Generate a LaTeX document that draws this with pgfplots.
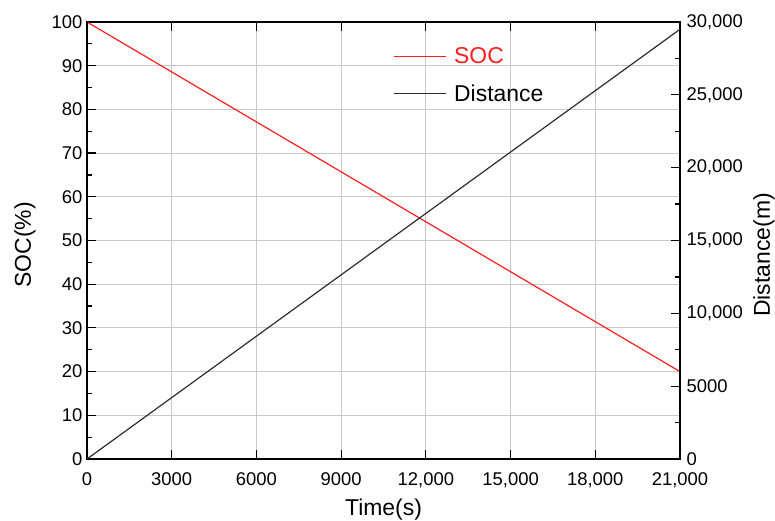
\documentclass[border=0pt]{standalone}
\usepackage{fontspec}
\setmainfont{Liberation Sans}
\usepackage{pgfplots}
\pgfplotsset{compat=1.18}
\definecolor{gridc}{RGB}{200,200,200}
\definecolor{dline}{RGB}{45,45,45}
\definecolor{socred}{RGB}{255,30,30}
\begin{document}
\begin{tikzpicture}
\pgfplotsset{
  every axis/.append style={
    font=\fontsize{18.5}{22}\selectfont,
    scale only axis, width=593bp, height=437bp,
    xmin=0, xmax=21000,
    tick align=inside,
    axis line style={line width=1.4pt},
    major tick length=9bp, minor tick length=5bp,
    tick style={black, line width=1.2pt},
    /pgf/number format/assume math mode=true,
  },
}
\begin{axis}[
  ymin=0, ymax=100,
  xtick={0,3000,...,21000},
  xticklabels={0,3000,6000,9000,{12,000},{15,000},{18,000},{21,000}},
  xticklabel style={anchor=base, yshift=-26bp},
  ytick={0,10,...,100},
  minor ytick={5,15,...,95},
  yticklabel style={xshift=-1bp},
  ytick pos=left, xtick pos=both, xticklabel pos=lower,
  grid=major, major grid style={gridc, line width=0.9pt},
  xlabel={Time(s)}, ylabel={SOC(\%)},
  xlabel style={at={(axis description cs:0.5,-0.1304)}, anchor=base, font=\fontsize{23}{27}\selectfont},
  ylabel style={at={(axis description cs:-0.1046,0.4897)}, anchor=center, rotate=0, font=\fontsize{23}{27}\selectfont},
  scaled x ticks=false,
]
\addplot[socred, line width=1.2pt] coordinates {(0,100) (21000,20)};
\coordinate (ll) at (rel axis cs:0,0);
\coordinate (ur) at (rel axis cs:1,1);
\end{axis}
\begin{axis}[
  ymin=0, ymax=30000,
  hide x axis,
  ytick={0,5000,...,30000},
  yticklabels={0,5000,{10,000},{15,000},{20,000},{25,000},{30,000}},
  minor ytick={2500,7500,...,27500},
  ytick pos=right, yticklabel pos=right,
  yticklabel style={xshift=3bp},
  ylabel={Distance(m)},
  ylabel style={at={(axis description cs:1.1417,0.4668)}, anchor=center, font=\fontsize{23}{27}\selectfont},
  scaled y ticks=false,
  legend style={at={(rel axis cs:0.516,0.9405)}, anchor=north west, draw=none, fill=none,
    inner sep=0pt, outer sep=0pt, row sep=19bp, column sep=8bp,
    nodes={inner sep=0pt}, font=\fontsize{23}{27}\selectfont},
  legend cell align=left,
  legend image code/.code={\draw[#1] (0bp,0bp) -- (52bp,0bp);},
]
\addlegendimage{socred, line width=1.2pt}
\addlegendentry{\textcolor{socred}{SOC}}
\addplot[dline, line width=1.2pt] coordinates {(0,0) (21000,29500)};
\addlegendentry{Distance}
\end{axis}
\pgfresetboundingbox
\path ([shift={(-87bp,-62bp)}]ll) rectangle ([shift={(95bp,22bp)}]ur);
\end{tikzpicture}
\end{document}
